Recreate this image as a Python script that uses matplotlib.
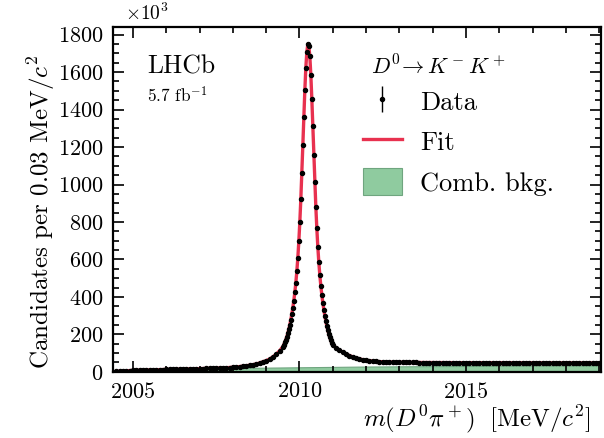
import numpy as np
import matplotlib
matplotlib.use('Agg')
import matplotlib.pyplot as plt
from matplotlib.lines import Line2D
from matplotlib.patches import Patch
from matplotlib.ticker import MultipleLocator

plt.rcParams['font.family'] = 'serif'
plt.rcParams['font.serif'] = ['cmr10']
plt.rcParams['mathtext.fontset'] = 'cm'
plt.rcParams['axes.unicode_minus'] = False
plt.rcParams['axes.formatter.use_mathtext'] = True

# bin centres in MeV/c^2 (coarser steps in the flat tails)
left_mass = np.round(np.arange(2004.5, 2009.45, 0.1), 2)
core_mass = np.round(np.arange(2009.50, 2011.005, 0.03), 2)
right_mass = np.round(np.arange(2011.1, 2019.05, 0.1), 2)

# candidates per bin, x10^3
data_left = [2.1, 3.8, 5.2, 6.1, 6.8, 8.2, 8.4, 9.1, 9.4, 10.2,
             10.4, 11.1, 11.6, 11.9, 12.6, 13.1, 13.3, 13.9, 14.1, 14.7,
             15.1, 15.3, 15.9, 16.1, 16.7, 16.9, 17.6, 18.1, 18.5, 19.3,
             19.7, 20.6, 21.1, 22.1, 22.9, 24.6, 25.9, 28.1, 30.1, 32.3,
             35.2, 37.9, 42.1, 46.8, 53.2, 59.8, 68.3, 79.7, 94.2, 111.8]
data_core = [134.5, 144.6, 157.3, 170.8, 187.4, 205.6, 227.3, 250.7, 279.4, 308.6,
             343.5, 380.6, 425.4, 475.7, 537.5, 609.6, 697.4, 800.5, 923.6, 1060.5,
             1209.7, 1360.4, 1503.6, 1622.5, 1708.6, 1748.6, 1741.5, 1683.6, 1586.5, 1456.6,
             1310.4, 1158.6, 1014.4, 881.7, 766.3, 666.8, 585.3, 515.8, 459.2, 410.8,
             369.2, 331.8, 299.2, 269.8, 244.2, 221.8, 201.2, 183.8, 168.2, 154.8,
             143.2]
data_right = [128.2, 115.8, 105.3, 94.8, 87.2, 79.8, 74.2, 68.9, 65.2, 61.8,
              59.6, 57.3, 55.9, 54.3, 53.4, 52.5, 52.1, 51.3, 51.1, 50.6,
              50.6, 50.3, 50.3, 50.0, 50.1, 49.8, 49.9, 49.6, 49.7, 49.4,
              49.6, 49.3, 49.4, 49.2, 49.3, 49.0, 49.2, 48.9, 49.1, 48.8,
              49.0, 48.7, 48.9, 48.6, 48.8, 48.5, 48.7, 48.4, 48.6, 48.3,
              48.5, 48.3, 48.4, 48.2, 48.3, 48.1, 48.3, 48.0, 48.2, 47.9,
              48.1, 47.9, 48.0, 47.8, 48.0, 47.7, 47.9, 47.7, 47.8, 47.6,
              47.8, 47.6, 47.7, 47.5, 47.7, 47.5, 47.6, 47.4, 47.6, 47.4]

fit_left = [2, 4, 5, 6, 7, 8, 8.5, 9, 9.5, 10,
            10.5, 11, 11.5, 12, 12.5, 13, 13.4, 13.8, 14.2, 14.6,
            15, 15.4, 15.8, 16.2, 16.6, 17, 17.5, 18, 18.6, 19.2,
            19.8, 20.5, 21.2, 22, 23, 24.5, 26, 28, 30, 32.5,
            35, 38, 42, 47, 53, 60, 68, 80, 94, 112]
fit_core = [134, 145, 157, 171, 187, 206, 227, 251, 279, 309,
            343, 381, 425, 476, 537, 610, 697, 801, 923, 1061,
            1209, 1361, 1503, 1623, 1708, 1749, 1741, 1684, 1586, 1457,
            1310, 1159, 1014, 882, 766, 667, 585, 516, 459, 411,
            369, 332, 299, 270, 244, 222, 201, 184, 168, 155,
            143]
fit_right = [128, 116, 105, 95, 87, 80, 74, 69, 65, 62,
             59.5, 57.3, 55.8, 54.5, 53.5, 52.7, 52.1, 51.6, 51.2, 50.8,
             50.5, 50.3, 50.2, 50.0, 49.9, 49.8, 49.8, 49.7, 49.6, 49.5,
             49.5, 49.4, 49.3, 49.3, 49.2, 49.1, 49.1, 49.0, 49.0, 48.9,
             48.9, 48.8, 48.8, 48.7, 48.7, 48.6, 48.6, 48.5, 48.5, 48.4,
             48.4, 48.4, 48.3, 48.3, 48.2, 48.2, 48.2, 48.1, 48.1, 48.0,
             48.0, 48.0, 47.9, 47.9, 47.9, 47.8, 47.8, 47.8, 47.7, 47.7,
             47.7, 47.7, 47.6, 47.6, 47.6, 47.6, 47.5, 47.5, 47.5, 47.5]

bkg_mass = [2004.41, 2004.5, 2005.0, 2005.5, 2006.0, 2006.5, 2007.0, 2007.5,
            2008.0, 2008.5, 2009.0, 2009.5, 2010.0, 2010.5, 2011.0, 2011.5,
            2012.0, 2013.0, 2014.0, 2015.0, 2016.0, 2017.0, 2018.0, 2019.0]
bkg_vals = [0, 4, 8.5, 11.5, 13.5, 15.5, 17, 18.5, 20, 21.5, 22.5, 23.5,
            24.5, 25.5, 26.5, 27.5, 28.5, 29.5, 30.5, 31.3, 32, 32.7, 33.3, 34]

mass = np.concatenate([left_mass, core_mass, right_mass])
counts = np.concatenate([data_left, data_core, data_right])
fit = np.concatenate([fit_left, fit_core, fit_right])
errs = np.sqrt(counts * 1e3) / 1e3

red = '#e8314f'
green = '#8fcb9f'

fig = plt.figure(figsize=(6.04, 4.38), dpi=100)
ax = fig.add_axes([0.187, 0.151, 0.808, 0.787])

ax.fill_between(bkg_mass, 0, bkg_vals, facecolor=green, edgecolor='#6fa57f',
                lw=0.8, zorder=1)
ax.plot(mass, fit, color=red, lw=2.4, zorder=2)
ax.errorbar(mass, counts, yerr=errs, fmt='o', color='black', ms=2.9,
            elinewidth=1.0, capsize=0, zorder=3)

ax.set_xlim(2004.4, 2019.05)
ax.set_ylim(0, 1840)
ax.xaxis.set_major_locator(MultipleLocator(5))
ax.xaxis.set_minor_locator(MultipleLocator(1))
ax.yaxis.set_major_locator(MultipleLocator(200))
ax.yaxis.set_minor_locator(MultipleLocator(50))
ax.tick_params(which='both', direction='in', top=True, right=True,
               labelsize=16, width=1.2)
ax.tick_params(which='major', length=8, pad=7)
ax.tick_params(which='minor', length=4)
for sp in ax.spines.values():
    sp.set_linewidth(1.6)

ax.set_ylabel(r'Candidates per 0.03 MeV/$c^2$', fontsize=18)
ax.yaxis.set_label_coords(-0.115, 0.463)
ax.set_xlabel(r'$m(D^0\pi^+)\;$ [MeV/$c^2$]', fontsize=18, loc='right')
ax.xaxis.set_label_coords(0.978, -0.092)

ax.text(0.024, 1.01, r'$\times10^3$', transform=ax.transAxes, fontsize=14,
        ha='left', va='bottom')
ax.text(0.07, 0.886, 'LHCb', transform=ax.transAxes, fontsize=18.5,
        ha='left', va='center')
ax.text(0.07, 0.803, r'5.7 fb$^{-1}$', transform=ax.transAxes, fontsize=12.5,
        ha='left', va='center')
ax.text(0.529, 0.885, r'$D^0\!\to K^-K^+$', transform=ax.transAxes,
        fontsize=16, ha='left', va='center')

handles = [
    ax.errorbar([], [], yerr=[], fmt='o', color='black', ms=2.9, elinewidth=1.0),
    Line2D([], [], color=red, lw=2.4),
    Patch(facecolor=green, edgecolor='#6fa57f', lw=0.8),
]
leg = ax.legend(handles, ['Data', 'Fit', 'Comb. bkg.'],
                loc='upper left', bbox_to_anchor=(0.512, 0.825),
                frameon=False, fontsize=19, borderpad=0, borderaxespad=0,
                handlelength=1.48, handleheight=1.2, labelspacing=0.49,
                handletextpad=0.68)

fig.savefig('out.png', dpi=100)
